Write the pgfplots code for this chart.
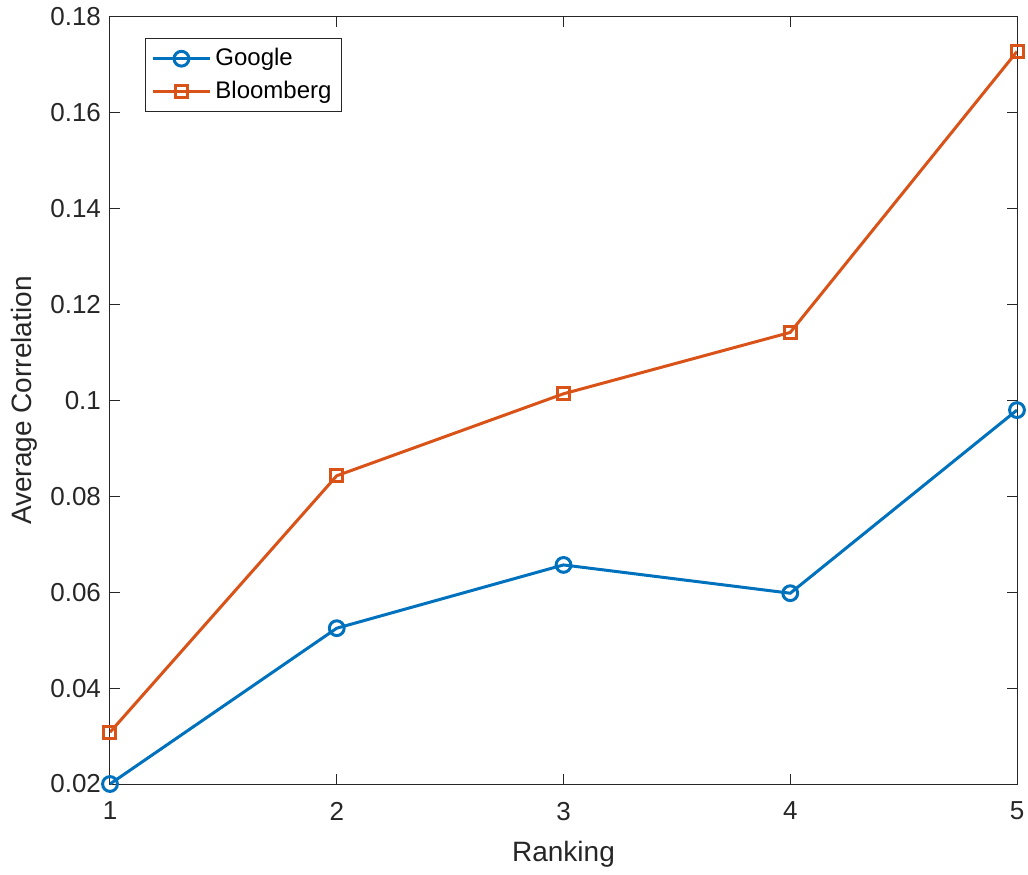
\documentclass[border=0pt]{standalone}
\usepackage{fontspec}
\setmainfont{Liberation Sans}
\usepackage{pgfplots}
\pgfplotsset{compat=1.18}
\definecolor{mblue}{rgb}{0,0.447,0.741}
\definecolor{morange}{rgb}{0.85,0.325,0.098}
\definecolor{axgray}{rgb}{0.15,0.15,0.15}
\begin{document}
\begin{tikzpicture}
\begin{axis}[
  name=ax,
  scale only axis,
  width=453.5pt, height=383.5pt,
  xmin=1, xmax=5, ymin=0.02, ymax=0.18,
  xtick={1,2,3,4,5},
  ytick={0.02,0.04,0.06,0.08,0.1,0.12,0.14,0.16,0.18},
  scaled y ticks=false,
  yticklabel style={/pgf/number format/fixed,/pgf/number format/precision=2, xshift=-1pt},
  xticklabel style={yshift=-5.5pt},
  /pgf/number format/assume math mode=true,
  tick align=inside,
  major tick length=5pt,
  axis line style={axgray, line width=0.5pt},
  tick style={axgray, line width=0.5pt},
  ticklabel style={font=\fontsize{13}{15}\selectfont, text=axgray},
  label style={font=\fontsize{14}{16}\selectfont, text=axgray},
  xlabel={Ranking},
  ylabel={Average Correlation},
  ylabel style={yshift=-0.5pt},
  xlabel style={yshift=-3.5pt},
  legend style={at={(0.0386,0.9726)}, anchor=north west, draw=axgray, line width=0.5pt,
    font=\fontsize{12}{14}\selectfont, text=black, inner sep=3pt, row sep=2pt},
  legend cell align=left,
  legend image code/.code={\draw[mark repeat=2,mark phase=2] plot coordinates {(0cm,0cm) (0.5cm,0cm) (1cm,0cm)};},
]
\addplot[color=mblue, line width=1.5pt, mark=o, mark size=3.7pt, mark options={line width=1.5pt}] coordinates {
(1,0.0200) (2,0.0525) (3,0.0657) (4,0.0598) (5,0.0980)};
\addlegendentry{Google}
\addplot[color=morange, line width=1.5pt, mark=square, mark size=3pt, mark options={line width=1.5pt}] coordinates {
(1,0.0308) (2,0.0843) (3,0.1014) (4,0.1142) (5,0.1728)};
\addlegendentry{Bloomberg}
\end{axis}
\pgfresetboundingbox
\path (ax.south west) ++(-55pt,-45pt) coordinate (bl);
\path (ax.north east) ++(5.5pt,8.5pt) coordinate (tr);
\path[use as bounding box] (bl) rectangle (tr);
\end{tikzpicture}
\end{document}
